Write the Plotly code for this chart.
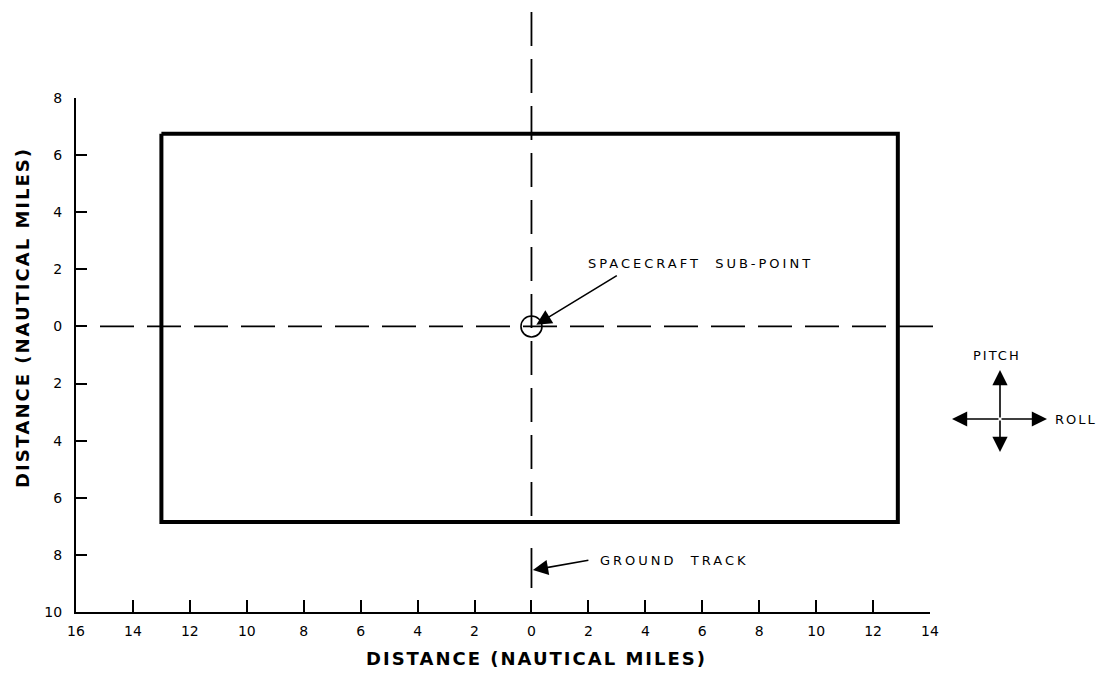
import plotly.graph_objects as go

# ---- data ----
x_tickvals = [-16, -14, -12, -10, -8, -6, -4, -2, 0, 2, 4, 6, 8, 10, 12, 14]
x_ticktext = ["16", "14", "12", "10", "8", "6", "4", "2", "0", "2", "4", "6", "8", "10", "12", "14"]
y_tickvals = [-10, -8, -6, -4, -2, 0, 2, 4, 6, 8]
y_ticktext = ["10", "8", "6", "4", "2", "0", "2", "4", "6", "8"]

footprint_left = -13.0
footprint_right = 12.87
footprint_bottom = -6.85
footprint_top = 6.75

subpoint_x = [0]
subpoint_y = [0]

x_range = [-16, 14]
y_range = [-10, 8]

W, H = 1102, 674
L, R, T, B = 76, 172, 98, 62
plot_w = W - L - R
plot_h = H - T - B


def px_x(px):
    return (px - L) / plot_w


def px_y(py):
    return (H - B - py) / plot_h


fig = go.Figure()

# footprint rectangle
fig.add_trace(go.Scatter(
    x=[footprint_left, footprint_right, footprint_right, footprint_left, footprint_left],
    y=[footprint_top, footprint_top, footprint_bottom, footprint_bottom, footprint_top],
    mode="lines", line=dict(color="black", width=4), hoverinfo="skip", showlegend=False,
))

# spacecraft sub-point circle
fig.add_trace(go.Scatter(
    x=subpoint_x, y=subpoint_y, mode="markers",
    marker=dict(symbol="circle-open", size=21, color="black", line=dict(width=1.6)),
    hoverinfo="skip", showlegend=False, cliponaxis=False,
))

dash = "34px,13px"
shapes = [
    # horizontal dashed line (y = 0)
    dict(type="line", xref="paper", yref="y", x0=px_x(100), x1=px_x(937), y0=0, y1=0,
         line=dict(color="black", width=1.8, dash=dash)),
    # vertical dashed line (x = 0)
    dict(type="line", xref="x", yref="paper", x0=0, x1=0, y0=px_y(12), y1=px_y(528),
         line=dict(color="black", width=1.8, dash=dash)),
    # ground track segment
    dict(type="line", xref="x", yref="y", x0=0, x1=0, y0=-7.76, y1=-9.16,
         line=dict(color="black", width=1.8)),
]

lab_font = dict(family="DejaVu Sans", size=13, color="black")
arrow = dict(text="", showarrow=True, arrowhead=2, arrowsize=1.9, arrowwidth=1.6, arrowcolor="black")
annotations = [
    dict(xref="x", yref="y", x=1.9, y=2.22, xanchor="left", yanchor="middle", showarrow=False,
         text='<span style="letter-spacing:3px">SPACECRAFT  SUB-POINT</span>', font=lab_font),
    dict(xref="x", yref="y", x=0.17, y=0.06, ax=82, ay=-50, **arrow),
    dict(xref="x", yref="y", x=2.35, y=-8.18, xanchor="left", yanchor="middle", showarrow=False,
         text='<span style="letter-spacing:3px">GROUND  TRACK</span>', font=lab_font),
    dict(xref="x", yref="y", x=0.05, y=-8.53, ax=57, ay=-10, **arrow),
    # pitch / roll glyph
    dict(xref="paper", yref="paper", x=px_x(952), y=px_y(419), ax=48, ay=0, **arrow),
    dict(xref="paper", yref="paper", x=px_x(1047), y=px_y(419), ax=-47, ay=0, **arrow),
    dict(xref="paper", yref="paper", x=px_x(1000), y=px_y(370), ax=0, ay=49, **arrow),
    dict(xref="paper", yref="paper", x=px_x(1000), y=px_y(452), ax=0, ay=-33, **arrow),
    dict(xref="paper", yref="paper", x=px_x(997), y=px_y(355), xanchor="center", yanchor="middle",
         showarrow=False, text='<span style="letter-spacing:2px">PITCH</span>', font=lab_font),
    dict(xref="paper", yref="paper", x=px_x(1053), y=px_y(419), xanchor="left", yanchor="middle",
         showarrow=False, text='<span style="letter-spacing:2px">ROLL</span>', font=lab_font),
    # axis titles
    dict(xref="paper", yref="paper", x=px_x(536), y=px_y(658), xanchor="center", yanchor="middle",
         showarrow=False,
         text='<span style="letter-spacing:2px">DISTANCE (NAUTICAL MILES)</span>',
         font=dict(family="DejaVu Sans", size=18, color="black", weight="bold")),
    dict(xref="paper", yref="paper", x=px_x(22), y=px_y(318), xanchor="center", yanchor="middle",
         showarrow=False, textangle=-90,
         text='<span style="letter-spacing:2px">DISTANCE (NAUTICAL MILES)</span>',
         font=dict(family="DejaVu Sans", size=18, color="black", weight="bold")),
]

fig.update_layout(
    width=W, height=H,
    margin=dict(l=L, r=R, t=T, b=B, pad=0),
    paper_bgcolor="white", plot_bgcolor="white",
    showlegend=False,
    shapes=shapes,
    annotations=annotations,
    xaxis=dict(
        range=x_range, tickmode="array", tickvals=x_tickvals, ticktext=x_ticktext,
        showgrid=False, zeroline=False, showline=True, linecolor="black", linewidth=2,
        ticks="inside", ticklen=12, tickwidth=1.6, tickcolor="black",
        tickfont=dict(family="DejaVu Sans", size=14, color="black"), ticklabelstandoff=5,
    ),
    yaxis=dict(
        range=y_range, tickmode="array", tickvals=y_tickvals, ticktext=y_ticktext,
        showgrid=False, zeroline=False, showline=True, linecolor="black", linewidth=2,
        ticks="inside", ticklen=11, tickwidth=1.6, tickcolor="black",
        tickfont=dict(family="DejaVu Sans", size=14, color="black"), ticklabelstandoff=9,
    ),
)

fig.write_html("out.html")
